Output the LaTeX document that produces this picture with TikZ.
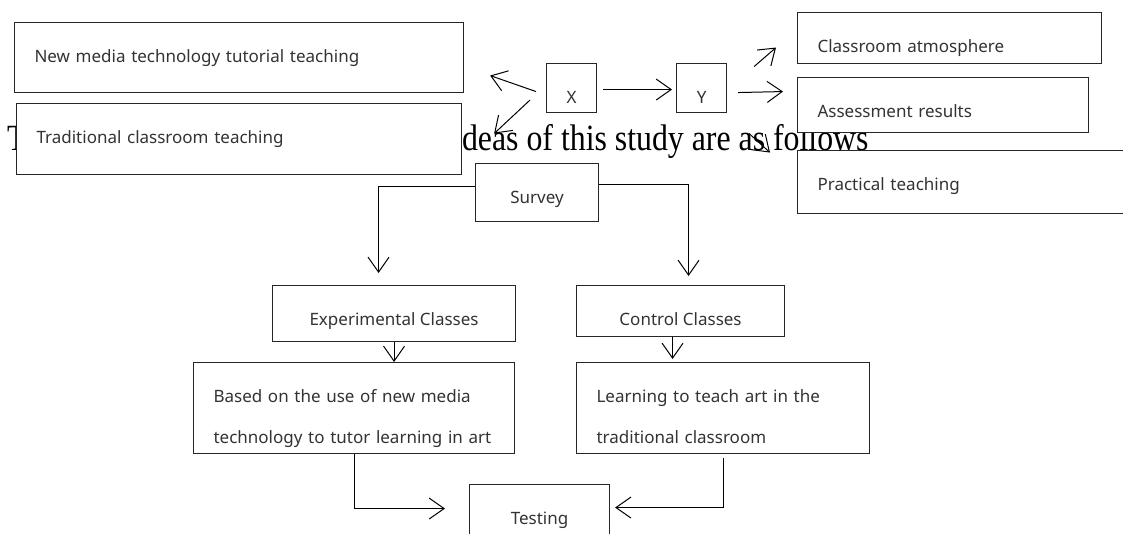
\documentclass[tikz,border=0pt]{standalone}
\usepackage{fontspec}
\usepackage{graphicx}
\setmainfont{Liberation Serif}
\newfontfamily\boxfont{Noto Sans}
\usetikzlibrary{arrows.meta}

\begin{document}
\begin{tikzpicture}[x=1pt,y=-1pt,
  box/.style={draw=black!85,line width=1.1pt,fill=white,anchor=north west,
    inner xsep=0pt,inner ysep=0pt,text height=40pt,text=black!80,
    font=\boxfont\fontsize{17}{20}\selectfont},
  lbox/.style={box,align=left,inner xsep=20pt,text width=#1},
  cbox/.style={box,align=center,minimum width=#1},
  arr/.style={-{Straight Barb[length=15pt,width=21pt]},line width=1pt}]
\useasboundingbox (0,0) rectangle (1123,533);
% title line behind the boxes
\node[anchor=base west,inner sep=0pt] (titlea) at (7,150)
  {\scalebox{0.86}[1]{\fontsize{37}{40}\selectfont T}};
\node[anchor=base west,inner sep=0pt] (titleb) at (453,150)
  {\scalebox{0.86}[1]{\fontsize{37}{40}\selectfont ideas of this study are as follows}};
% left
\node[lbox=409pt,text depth=30pt] (newmedia) at (14,22) {New media technology tutorial teaching};
\node[lbox=405pt,text depth=31pt] (tradit) at (16,103) {Traditional classroom teaching};
\node[cbox=50pt,text depth=9pt] (xnode) at (546,63) {X};
\node[cbox=50pt,text depth=9pt] (ynode) at (676,63) {Y};
% right
\node[lbox=264pt,text depth=11pt] (atmos) at (797,12) {Classroom atmosphere};
\node[lbox=251pt,text depth=15pt] (assess) at (797,77) {Assessment results};
\node[lbox=303pt,text depth=23pt] (pract) at (797,150) {Practical teaching};
% flow
\node[cbox=123pt,text depth=18pt] (survey) at (475,163) {Survey};
\node[cbox=243pt,text depth=16pt] (exper) at (272,285) {Experimental Classes};
\node[cbox=208pt,text depth=11pt] (control) at (576,285) {Control Classes};
\node[lbox=281pt,text depth=51pt,font=\boxfont\fontsize{17}{41}\selectfont] (based) at (193,362)
  {Based on the use of new media\\technology to tutor learning in art};
\node[lbox=253pt,text depth=51pt,font=\boxfont\fontsize{17}{41}\selectfont] (learning) at (576,362)
  {Learning to teach art in the\\traditional classroom};
\node[cbox=140pt,text depth=16pt] (testing) at (469,484) {Testing};

\draw[arr] ([shift={(-10,3.5)}]xnode.west) -- ([shift={(26,18)}]newmedia.east);
\draw[arr] ([shift={(-16,12)}]xnode.west) -- ([shift={(32,-5.5)}]tradit.east);
\draw[arr] ([shift={(6,1.5)}]xnode.east) -- ([shift={(-4,1.5)}]ynode.west);
\draw[arr] ([shift={(27,-21.5)}]ynode.east) -- ([shift={(-21,9.5)}]atmos.west);
\draw[arr] ([shift={(11,4.5)}]ynode.east) -- ([shift={(-14,-13.5)}]assess.west);
\draw[arr] ([shift={(22,45.5)}]ynode.east) -- ([shift={(-27,-29.5)}]pract.west);
\draw[arr] ([shift={(0,-6)}]survey.west) -| ([shift={(-15.5,-12)}]exper.north);
\draw[arr] ([shift={(0,-8)}]survey.east) -| ([shift={(8,-9)}]control.north);
\draw[arr] (exper.south) -- (exper.south |- based.north);
\draw[arr,shorten >=3pt] ([shift={(-8,0)}]control.south) -- ([shift={(-8,0)}]control.south |- learning.north);
\draw[arr] (based.south) |- ([shift={(-24,-4)}]testing.west);
\draw[arr] ([shift={(0,4)}]learning.south) |- ([shift={(5,-5)}]testing.east);
\end{tikzpicture}
\end{document}
